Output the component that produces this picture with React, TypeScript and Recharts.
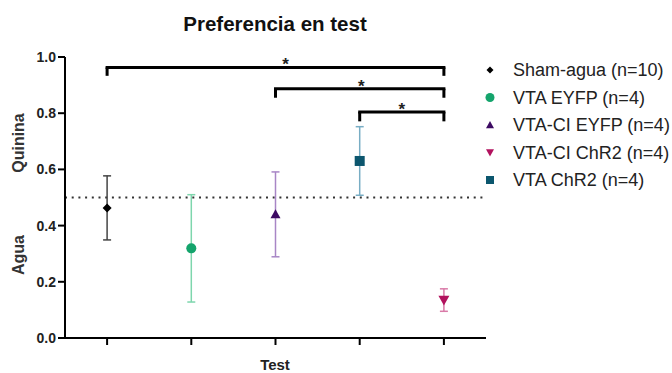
import React from 'react';
import { ComposedChart, Scatter, XAxis, YAxis, ErrorBar, ReferenceLine } from 'recharts';

// groups in legend order
const groups = ['Sham-agua (n=10)', 'VTA EYFP (n=4)', 'VTA-CI EYFP (n=4)', 'VTA-CI ChR2 (n=4)', 'VTA ChR2 (n=4)'];
const groupX = [1, 2, 3, 5, 4];
const means = [0.463, 0.319, 0.44, 0.135, 0.63];
const sems = [0.114, 0.191, 0.151, 0.04, 0.122];
const shapes = ['diamond', 'circle', 'triangle', 'triangleDown', 'square'];
const markerColors = ['#000000', '#14a46c', '#3c0a62', '#b2125e', '#0c566e'];
const barColors = ['#444444', '#7ed6ad', '#a886c6', '#d97aa8', '#78adc4'];

const yTicks = [0, 0.2, 0.4, 0.6, 0.8, 1.0];
const xTicks = [1, 2, 3, 4, 5];

// significance brackets
const bracketFrom = [1, 3, 4];
const bracketTo = [5, 5, 5];
const bracketTop = [0.963, 0.887, 0.804];
const bracketEnd = [0.933, 0.855, 0.771];
const starX = [3.12, 4.02, 4.5];

const W = 672;
const H = 373;
const FONT = "'Liberation Sans', Arial, Helvetica, sans-serif";

const drawMarker = (kind: string, cx: number, cy: number, s: number, color: string) => {
  const h = s / 2;
  switch (kind) {
    case 'diamond':
      return <polygon points={`${cx},${cy - h} ${cx + h},${cy} ${cx},${cy + h} ${cx - h},${cy}`} fill={color} />;
    case 'circle':
      return <circle cx={cx} cy={cy} r={h} fill={color} />;
    case 'triangle':
      return <polygon points={`${cx},${cy - h} ${cx + h},${cy + h * 0.8} ${cx - h},${cy + h * 0.8}`} fill={color} />;
    case 'triangleDown':
      return <polygon points={`${cx},${cy + h} ${cx + h},${cy - h * 0.8} ${cx - h},${cy - h * 0.8}`} fill={color} />;
    default:
      return <rect x={cx - h} y={cy - h} width={s} height={s} fill={color} />;
  }
};

const markerSize = [9, 10, 10, 11, 10];
const legendSize = [7, 9, 8, 8, 8];

export default function App() {
  const stars = starX.map((x, i) => ({ x, y: bracketTop[i] }));
  return (
    <div style={{ position: 'absolute', left: 0, top: 0, width: W, height: H, background: '#fff' }}>
      <ComposedChart width={W} height={H} margin={{ top: 57, right: 186, bottom: 5, left: 0 }}>
        <XAxis
          type="number"
          dataKey="x"
          domain={[0.5, 5.5]}
          ticks={xTicks}
          tickFormatter={() => ''}
          height={30}
          axisLine={{ stroke: '#000', strokeWidth: 2 }}
          tickLine={{ stroke: '#000', strokeWidth: 2 }}
          tickSize={7}
        />
        <YAxis
          type="number"
          dataKey="y"
          domain={[0, 1]}
          ticks={yTicks}
          width={65}
          tickFormatter={(v: number) => v.toFixed(1)}
          axisLine={{ stroke: '#000', strokeWidth: 2 }}
          tickLine={{ stroke: '#000', strokeWidth: 2 }}
          tickSize={7}
          tickMargin={2}
          tick={{ fontSize: 14, fontWeight: 'bold', fill: '#222', fontFamily: FONT }}
        />
        <ReferenceLine y={0.5} stroke="#333" strokeWidth={2} strokeDasharray="2 4.7" />
        {bracketFrom.map((from, i) => (
          <ReferenceLine
            key={'h' + i}
            segment={[{ x: from, y: bracketTop[i] }, { x: bracketTo[i], y: bracketTop[i] }]}
            stroke="#000"
            strokeWidth={3}
            strokeLinecap="square"
            ifOverflow="visible"
          />
        ))}
        {bracketFrom.map((from, i) => (
          <ReferenceLine
            key={'l' + i}
            segment={[{ x: from, y: bracketTop[i] }, { x: from, y: bracketEnd[i] }]}
            stroke="#000"
            strokeWidth={3}
            ifOverflow="visible"
          />
        ))}
        {bracketTo.map((to, i) => (
          <ReferenceLine
            key={'r' + i}
            segment={[{ x: to, y: bracketTop[i] }, { x: to, y: bracketEnd[i] }]}
            stroke="#000"
            strokeWidth={3}
            ifOverflow="visible"
          />
        ))}
        {groups.map((g, i) => (
          <Scatter
            key={g}
            name={g}
            data={[{ x: groupX[i], y: means[i], err: sems[i] }]}
            isAnimationActive={false}
            shape={(p: any) => drawMarker(shapes[i], p.cx, p.cy, markerSize[i], markerColors[i])}
          >
            <ErrorBar dataKey="err" direction="y" width={4} stroke={barColors[i]} strokeWidth={1.5} />
          </Scatter>
        ))}
        <Scatter
          data={stars}
          isAnimationActive={false}
          legendType="none"
          shape={(p: any) => (
            <text x={p.cx} y={p.cy + 3} textAnchor="middle" fontSize={17} fontWeight="bold" fill="#222" fontFamily={FONT}>
              *
            </text>
          )}
        />
      </ComposedChart>
      <svg width={W} height={H} style={{ position: 'absolute', left: 0, top: 0, pointerEvents: 'none' }}>
        <g fontFamily={FONT} fontWeight="bold">
          <text x={275} y={31} textAnchor="middle" fontSize={20.5} fill="#111">
            Preferencia en test
          </text>
          <text x={275} y={370} textAnchor="middle" fontSize={15} fill="#222">
            Test
          </text>
          <text x={24} y={143} textAnchor="middle" fontSize={16} fill="#333" transform="rotate(-90 24 143)">
            Quinina
          </text>
          <text x={24} y={255} textAnchor="middle" fontSize={16} fill="#333" transform="rotate(-90 24 255)">
            Agua
          </text>
        </g>
        <g fontFamily={FONT}>
          {groups.map((g, i) => (
            <g key={g}>
              {drawMarker(shapes[i], 490, 70 + i * 27.5, legendSize[i], markerColors[i])}
              <text x={513} y={70 + i * 27.5 + 6} fontSize={18} fill="#222">
                {g}
              </text>
            </g>
          ))}
        </g>
      </svg>
    </div>
  );
}
